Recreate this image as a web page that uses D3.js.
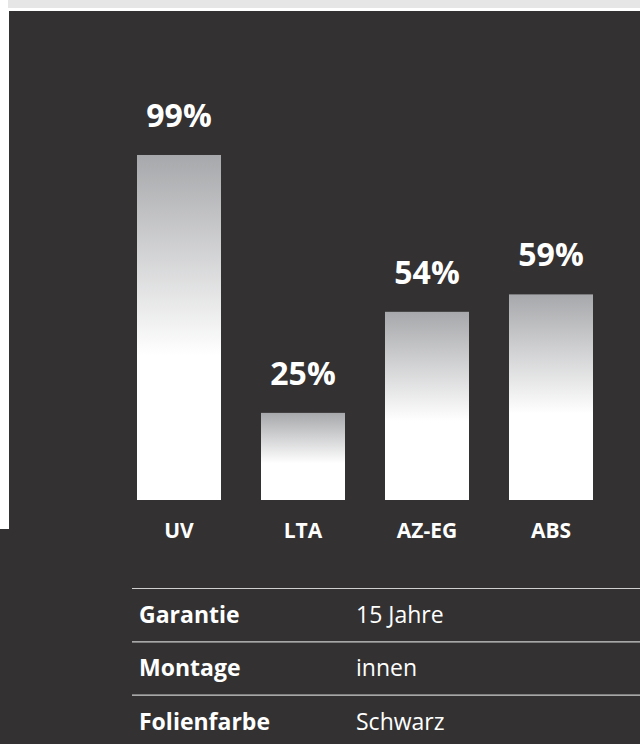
<!DOCTYPE html>
<html>
<head>
<meta charset="utf-8">
<script src="https://cdn.jsdelivr.net/npm/d3@7"></script>
<style>
  body { margin: 0; background: #fff; }
  svg { display: block; font-family: "Open Sans", sans-serif; }
</style>
</head>
<body>
<svg id="chart"></svg>
<script>
var categories = ["UV", "LTA", "AZ-EG", "ABS"];
var values = [99, 25, 54, 59];
var rowLabels = ["Garantie", "Montage", "Folienfarbe"];
var rowValues = ["15 Jahre", "innen", "Schwarz"];

make_bar_chart = function () {

    var width = 640, height = 744;
    var dark = "#333132";

    var svg = d3.select("#chart")
        .attr("width", width)
        .attr("height", height)
        .attr("viewBox", [0, 0, width, height]);

    // page frame
    svg.append("rect").attr("x", 8).attr("y", 0).attr("width", width - 8).attr("height", 8).attr("fill", "#e6e6e6");
    svg.append("rect").attr("x", 9).attr("y", 11).attr("width", width - 9).attr("height", height - 11).attr("fill", dark);
    svg.append("rect").attr("x", 0).attr("y", 529).attr("width", 10).attr("height", height - 529).attr("fill", dark);

    var grad = svg.append("defs").append("linearGradient")
        .attr("id", "barGrad")
        .attr("x1", 0).attr("y1", 0).attr("x2", 0).attr("y2", 1);
    grad.append("stop").attr("offset", 0).attr("stop-color", "#a7a8ab");
    grad.append("stop").attr("offset", 0.58).attr("stop-color", "#ffffff");
    grad.append("stop").attr("offset", 1).attr("stop-color", "#ffffff");

    var x = d3.scaleBand()
        .domain(categories)
        .range([117, 613])
        .paddingInner(40 / 124)
        .paddingOuter(20 / 124);

    var y = d3.scaleLinear()
        .domain([0, 100])
        .range([500, 151.5]);

    var data = categories.map((c, i) => ({ cat: c, val: values[i] }));

    svg.append("g")
        .selectAll("rect")
        .data(data)
        .join("rect")
        .attr("x", d => x(d.cat))
        .attr("y", d => y(d.val))
        .attr("width", x.bandwidth())
        .attr("height", d => y(0) - y(d.val))
        .attr("fill", "url(#barGrad)");

    svg.append("g")
        .selectAll("text")
        .data(data)
        .join("text")
        .attr("x", d => x(d.cat) + x.bandwidth() / 2)
        .attr("y", d => y(d.val) - 28)
        .attr("text-anchor", "middle")
        .attr("fill", "#fff")
        .attr("font-size", 32)
        .attr("font-weight", "bold")
        .text(d => d.val + "%");

    var xAxis = g => g
        .attr("transform", `translate(0,${y(0)})`)
        .call(d3.axisBottom(x).tickSize(0).tickPadding(23))
        .call(g => g.select(".domain").remove())
        .call(g => g.selectAll("text")
            .attr("fill", "#fff")
            .attr("font-size", 21)
            .attr("font-weight", "bold")
            .attr("font-family", "'Open Sans', sans-serif"));

    svg.append("g").call(xAxis);

    // table
    var rowY = d3.scaleBand()
        .domain(rowLabels)
        .range([588, 748])
        .padding(0);

    var table = svg.append("g");

    table.selectAll("line")
        .data(rowLabels)
        .join("line")
        .attr("x1", 132).attr("x2", width)
        .attr("y1", d => rowY(d) + 0.5).attr("y2", d => rowY(d) + 0.5)
        .attr("stroke", "#cfcfcf")
        .attr("stroke-width", 1.2);

    table.selectAll("text.lab")
        .data(rowLabels)
        .join("text")
        .attr("class", "lab")
        .attr("x", 139)
        .attr("y", d => rowY(d) + 35)
        .attr("fill", "#fff")
        .attr("font-size", 23)
        .attr("font-weight", "bold")
        .text(d => d);

    table.selectAll("text.val")
        .data(rowValues)
        .join("text")
        .attr("class", "val")
        .attr("x", 356)
        .attr("y", (d, i) => rowY(rowLabels[i]) + 35)
        .attr("fill", "#fff")
        .attr("font-size", 23)
        .text(d => d);
}

make_bar_chart();
</script>
</body>
</html>
